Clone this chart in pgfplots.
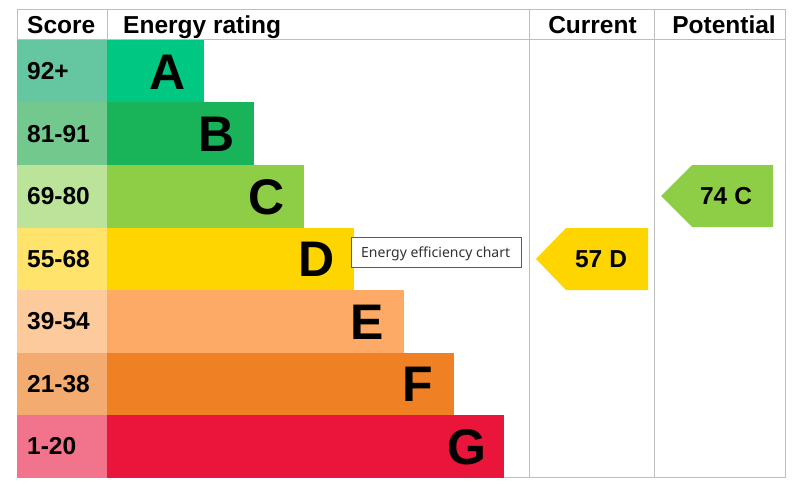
\documentclass[border=0pt]{standalone}
\usepackage{pgfplots}
\pgfplotsset{compat=1.18}
\usepackage{fontspec}
\setmainfont{Liberation Sans}
\newfontfamily\tipfont{Noto Sans}
\definecolor{barA}{RGB}{0,199,129}
\definecolor{barB}{RGB}{25,180,89}
\definecolor{barC}{RGB}{141,206,70}
\definecolor{barD}{RGB}{255,213,0}
\definecolor{barE}{RGB}{252,170,101}
\definecolor{barF}{RGB}{239,128,35}
\definecolor{barG}{RGB}{233,21,59}
\definecolor{scA}{RGB}{100,199,162}
\definecolor{scB}{RGB}{115,201,141}
\definecolor{scC}{RGB}{187,227,154}
\definecolor{scD}{RGB}{255,227,107}
\definecolor{scE}{RGB}{253,202,156}
\definecolor{scF}{RGB}{244,171,112}
\definecolor{scG}{RGB}{242,116,140}
\definecolor{gridc}{RGB}{190,190,190}
\definecolor{tipborder}{RGB}{90,90,90}
\definecolor{tiptext}{RGB}{50,50,50}
\newcommand{\bigf}{\bfseries\fontsize{50bp}{50bp}\selectfont}
\newcommand{\medf}{\bfseries\fontsize{24.5bp}{25bp}\selectfont}
\begin{document}
\begin{tikzpicture}
\begin{axis}[
  width=801bp, height=485bp, scale only axis,
  xmin=0, xmax=801, ymin=0, ymax=485, y dir=reverse,
  hide axis, clip=false,
]
\path (rel axis cs:0,0) rectangle (rel axis cs:1,1);
% grid lines
\addplot[draw=gridc, line width=1bp] coordinates {(17,9.5) (785,9.5) (785,477.5) (17,477.5)} -- cycle;
\addplot[draw=gridc, line width=1bp] coordinates {(17,40) (785,40)};
\addplot[draw=gridc, line width=1bp] coordinates {(107,9.5) (107,40)};
\addplot[draw=gridc, line width=1bp] coordinates {(529,9.5) (529,477.5)};
\addplot[draw=gridc, line width=1bp] coordinates {(654,9.5) (654,477.5)};
% score cells
\addplot[fill=scA, draw=none] coordinates {(17,40) (107,40) (107,102.5) (17,102.5)} -- cycle;
\addplot[fill=scB, draw=none] coordinates {(17,102.5) (107,102.5) (107,165) (17,165)} -- cycle;
\addplot[fill=scC, draw=none] coordinates {(17,165) (107,165) (107,227.5) (17,227.5)} -- cycle;
\addplot[fill=scD, draw=none] coordinates {(17,227.5) (107,227.5) (107,290) (17,290)} -- cycle;
\addplot[fill=scE, draw=none] coordinates {(17,290) (107,290) (107,352.5) (17,352.5)} -- cycle;
\addplot[fill=scF, draw=none] coordinates {(17,352.5) (107,352.5) (107,415) (17,415)} -- cycle;
\addplot[fill=scG, draw=none] coordinates {(17,415) (107,415) (107,477.5) (17,477.5)} -- cycle;
% rating bars
\addplot[fill=barA, draw=none] coordinates {(107,40) (204,40) (204,102.5) (107,102.5)} -- cycle;
\addplot[fill=barB, draw=none] coordinates {(107,102.5) (254,102.5) (254,165) (107,165)} -- cycle;
\addplot[fill=barC, draw=none] coordinates {(107,165) (304,165) (304,227.5) (107,227.5)} -- cycle;
\addplot[fill=barD, draw=none] coordinates {(107,227.5) (354,227.5) (354,290) (107,290)} -- cycle;
\addplot[fill=barE, draw=none] coordinates {(107,290) (404,290) (404,352.5) (107,352.5)} -- cycle;
\addplot[fill=barF, draw=none] coordinates {(107,352.5) (454,352.5) (454,415) (107,415)} -- cycle;
\addplot[fill=barG, draw=none] coordinates {(107,415) (504,415) (504,477.5) (107,477.5)} -- cycle;
% current / potential arrows
\addplot[fill=barD, draw=none] coordinates {(536,259) (566,228) (648,228) (648,290) (566,290)} -- cycle;
\addplot[fill=barC, draw=none] coordinates {(661,196) (692,165) (773,165) (773,227) (692,227)} -- cycle;
% header
\node[anchor=base west, inner sep=0pt, font=\medf] at (axis cs:27,33.5) {Score};
\node[anchor=base west, inner sep=0pt, font=\medf] at (axis cs:123,33.5) {Energy rating};
\node[anchor=base, inner sep=0pt, font=\medf] at (axis cs:592.5,33.5) {Current};
\node[anchor=base, inner sep=0pt, font=\medf] at (axis cs:724,33.5) {Potential};
% score labels
\node[anchor=base west, inner sep=0pt, font=\medf] at (axis cs:27,79.75) {92+};
\node[anchor=base west, inner sep=0pt, font=\medf] at (axis cs:27,142.25) {81-91};
\node[anchor=base west, inner sep=0pt, font=\medf] at (axis cs:27,204.75) {69-80};
\node[anchor=base west, inner sep=0pt, font=\medf] at (axis cs:27,267.25) {55-68};
\node[anchor=base west, inner sep=0pt, font=\medf] at (axis cs:27,329.75) {39-54};
\node[anchor=base west, inner sep=0pt, font=\medf] at (axis cs:27,392.25) {21-38};
\node[anchor=base west, inner sep=0pt, font=\medf] at (axis cs:27,454.75) {1-20};
% letters
\node[anchor=base east, font=\bigf, inner sep=0pt] at (axis cs:186,89.25) {A};
\node[anchor=base east, font=\bigf, inner sep=0pt] at (axis cs:235,151.75) {B};
\node[anchor=base east, font=\bigf, inner sep=0pt] at (axis cs:285,214.25) {C};
\node[anchor=base east, font=\bigf, inner sep=0pt] at (axis cs:335,276.75) {D};
\node[anchor=base east, font=\bigf, inner sep=0pt] at (axis cs:384,339.25) {E};
\node[anchor=base east, font=\bigf, inner sep=0pt] at (axis cs:433,401.75) {F};
\node[anchor=base east, font=\bigf, inner sep=0pt] at (axis cs:487,464.25) {G};
% arrow labels
\node[anchor=base, inner sep=0pt, font=\medf] at (axis cs:601,267) {57\hspace{7bp}D};
\node[anchor=base, inner sep=0pt, font=\medf] at (axis cs:726,204) {74\hspace{7bp}C};
% tooltip
\addplot[fill=white, draw=tipborder, line width=1bp] coordinates {(351.5,237) (521,237) (521,267) (351.5,267)} -- cycle;
\node[anchor=base west, inner sep=0pt, text=tiptext, font=\tipfont\fontsize{14bp}{15bp}\selectfont] at (axis cs:361,257) {Energy efficiency chart};
\end{axis}
\end{tikzpicture}
\end{document}
